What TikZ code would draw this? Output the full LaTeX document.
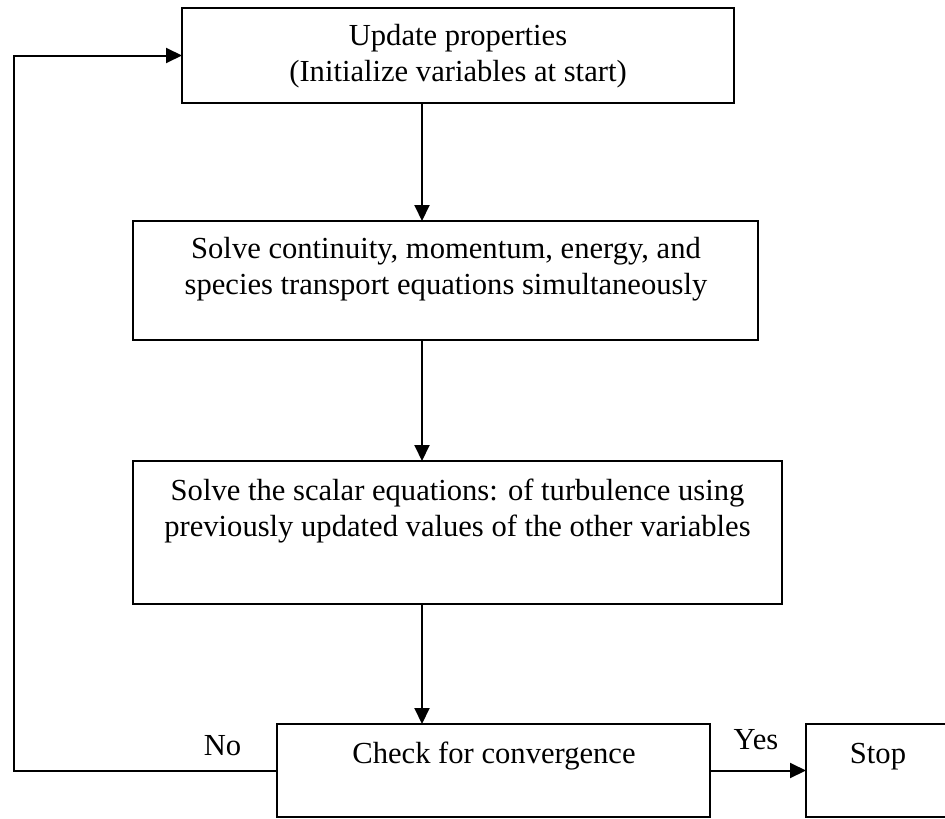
\documentclass[tikz,border=0pt]{standalone}
\usepackage{fontspec}
\setmainfont{Liberation Serif}
\usetikzlibrary{arrows.meta}
\begin{document}
\begin{tikzpicture}[x=1pt,y=-1pt,
  stepbox/.style={draw, line width=2.3pt, inner sep=0pt, outer sep=0pt},
  txt/.style={inner sep=0pt, anchor=base, font=\fontsize{30.6}{36.5}\selectfont},
  arr/.style={line width=2pt, -{Triangle[length=16pt,width=15pt]}},
  plain/.style={line width=2pt}]
\useasboundingbox (0,0) rectangle (945,819);
\clip (0,0) rectangle (945,819);
% boxes
\node[stepbox, minimum width=552pt, minimum height=95pt] (b1) at (458,55.5) {};
\node[stepbox, minimum width=625pt, minimum height=119pt] (b2) at (445.5,280.5) {};
\node[stepbox, minimum width=649pt, minimum height=143pt] (b3) at (457.5,532.5) {};
\node[stepbox, minimum width=433pt, minimum height=93pt] (b4) at (493.5,770.5) {};
\node[stepbox, minimum width=144pt, minimum height=93pt] (stop) at (878,770.5) {};
% texts
\node[txt] (t1) at (458,45) {\begin{tabular}[t]{@{}c@{}}Update properties\\(Initialize variables at start)\end{tabular}};
\node[txt] (t2) at (446,258) {\begin{tabular}[t]{@{}c@{}}Solve continuity, momentum, energy, and\\species transport equations simultaneously\end{tabular}};
\node[txt] (t3) at (457.5,500) {\begin{tabular}[t]{@{}c@{}}Solve the scalar equations: of turbulence using\\previously updated values of the other variables\end{tabular}};
\node[txt] (t4) at (494,763) {Check for convergence};
\node[txt] (t5) at (878,763) {Stop};
\node[txt] (no) at (222.5,755) {No};
\node[txt] (yes) at (756,749) {Yes};
% connectors
\coordinate (col) at (422,0);
\coordinate (lc) at (14,0);
\draw[arr] (b1.south -| col) -- (b2.north -| col);
\draw[arr] (b2.south -| col) -- (b3.north -| col);
\draw[arr] (b3.south -| col) -- (b4.north -| col);
\draw[arr] (b4.east) -- (stop.west);
\draw[arr] (b4.west) -- (b4.west -| lc) |- (b1.west);
\end{tikzpicture}
\end{document}
